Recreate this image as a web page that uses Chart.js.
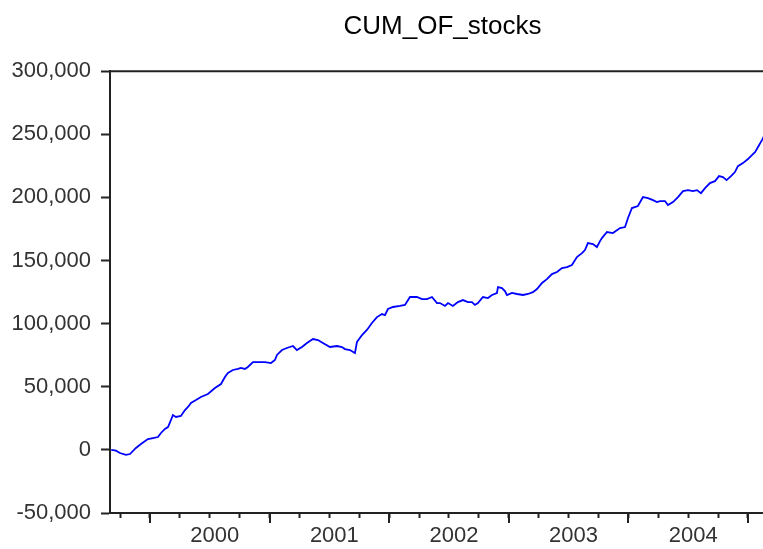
<!DOCTYPE html>
<html>
<head>
<meta charset="utf-8">
<title>CUM_OF_stocks</title>
<script src="https://cdn.jsdelivr.net/npm/chart.js@4/dist/chart.umd.min.js"></script>
<style>
  html, body { margin: 0; padding: 0; background: #fff; overflow: hidden; }
  canvas { display: block; }
</style>
</head>
<body>
<canvas id="cumChart" width="785" height="549"></canvas>
<script>
/* Cumulative order flow, stocks */

// decimal-year dates of the sampled points
const dates = [
  1999.676, 1999.716, 1999.749, 1999.799, 1999.833, 1999.883, 1999.925, 1999.983, 2000.025, 2000.067,
  2000.092, 2000.125, 2000.151, 2000.176, 2000.192, 2000.217, 2000.259, 2000.293, 2000.318, 2000.343,
  2000.385, 2000.426, 2000.485, 2000.543, 2000.594, 2000.627, 2000.652, 2000.694, 2000.736, 2000.761,
  2000.794, 2000.819, 2000.861, 2000.903, 2000.962, 2001.012, 2001.045, 2001.062, 2001.104, 2001.145,
  2001.196, 2001.229, 2001.271, 2001.313, 2001.363, 2001.405, 2001.446, 2001.505, 2001.564, 2001.605,
  2001.630, 2001.672, 2001.714, 2001.731, 2001.773, 2001.814, 2001.856, 2001.898, 2001.940, 2001.965,
  2001.990, 2002.032, 2002.090, 2002.132, 2002.174, 2002.232, 2002.274, 2002.316, 2002.358, 2002.400,
  2002.425, 2002.467, 2002.492, 2002.533, 2002.575, 2002.617, 2002.659, 2002.692, 2002.717, 2002.742,
  2002.784, 2002.826, 2002.860, 2002.901, 2002.910, 2002.943, 2002.968, 2002.985, 2003.027, 2003.069,
  2003.119, 2003.161, 2003.202, 2003.236, 2003.278, 2003.319, 2003.361, 2003.403, 2003.445, 2003.487,
  2003.528, 2003.570, 2003.612, 2003.637, 2003.662, 2003.704, 2003.737, 2003.763, 2003.779, 2003.821,
  2003.871, 2003.930, 2003.972, 2003.997, 2004.030, 2004.080, 2004.122, 2004.164, 2004.206, 2004.239,
  2004.264, 2004.306, 2004.331, 2004.373, 2004.415, 2004.457, 2004.498, 2004.540, 2004.574, 2004.607,
  2004.641, 2004.682, 2004.724, 2004.758, 2004.791, 2004.821, 2004.858, 2004.891, 2004.916, 2004.958,
  2005.000, 2005.033, 2005.059, 2005.084, 2005.117, 2005.142
];

const cumValues = [
  0, -600, -2500, -4000, -3300, 1500, 4700, 8600, 9400, 10200,
  13400, 16600, 18100, 23700, 27600, 26100, 26900, 31600, 34000, 37100,
  39500, 41900, 44300, 49000, 52200, 57700, 60900, 63300, 64100, 64900,
  64100, 65700, 69600, 69600, 69600, 68800, 71200, 75200, 79100, 80700,
  82300, 79100, 81500, 84700, 87800, 87000, 84700, 81500, 82300, 81500,
  79900, 79100, 76700, 85500, 91000, 95000, 100500, 105200, 107600, 106800,
  111600, 113200, 114000, 114800, 121100, 121100, 119500, 119500, 121100, 116300,
  116300, 114000, 116300, 114000, 117100, 118700, 117100, 117100, 114800, 116300,
  121100, 120300, 122700, 124300, 129000, 128200, 125800, 122700, 124300, 123500,
  122700, 123500, 125000, 127400, 132200, 135300, 139300, 140900, 144100, 144800,
  146400, 152800, 155900, 158300, 163800, 163100, 160700, 165400, 167800, 172600,
  171800, 175700, 176500, 183700, 191600, 193200, 200300, 199500, 197900, 196300,
  197100, 197100, 193900, 196300, 200300, 205000, 205800, 205000, 205800, 203400,
  207400, 211400, 212900, 216900, 216100, 213700, 216900, 220100, 224800, 227200,
  230400, 233500, 235900, 239900, 245400, 250100
];

// year boundaries (long ticks) and the year labels shown between them
const yearTicks = [2000, 2001, 2002, 2003, 2004, 2005];
const yearLabels = ["2000", "2001", "2002", "2003", "2004"];
const yTickValues = [-50000, 0, 50000, 100000, 150000, 200000, 250000, 300000];

const AXIS_COLOR = "#222";
const FONT = "'Liberation Sans', Arial, sans-serif";

/* quarterly tick positions, labels sit on the mid-year tick */
function quarterTicks(min, max) {
  const out = [];
  for (let q = Math.ceil(min * 4); q / 4 <= max; q++) out.push({ value: q / 4 });
  return out;
}

/* longer tick marks at year boundaries + frame line along the top */
const frameAndMajorTicks = {
  id: "frameAndMajorTicks",
  afterDraw(chart) {
    const { ctx, chartArea } = chart;
    const xs = chart.scales.x;
    ctx.save();
    ctx.strokeStyle = AXIS_COLOR;
    ctx.lineWidth = 2;
    ctx.beginPath();
    ctx.moveTo(chartArea.left, chartArea.top);
    ctx.lineTo(chart.width, chartArea.top);
    yearTicks.forEach((yr) => {
      const px = Math.round(xs.getPixelForValue(yr));
      if (px < chartArea.left || px > chartArea.right) return;
      ctx.moveTo(px, xs.top);
      ctx.lineTo(px, xs.top + 10);
    });
    ctx.stroke();
    ctx.restore();
  }
};

function renderChart() {
  const ctx = document.getElementById("cumChart");
  if (!ctx || typeof Chart === "undefined") return;

  new Chart(ctx, {
    type: "line",
    data: {
      datasets: [{
        data: dates.map((d, i) => ({ x: d, y: cumValues[i] })),
        borderColor: "#0000ff",
        borderWidth: 1.8,
        pointRadius: 0,
        tension: 0,
        fill: false
      }]
    },
    options: {
      responsive: false,
      animation: false,
      devicePixelRatio: 1,
      layout: { padding: { left: 0, right: 10, top: 0, bottom: 0 } },
      plugins: {
        legend: { display: false },
        tooltip: { enabled: false },
        title: {
          display: true,
          text: "CUM_OF_stocks",
          fullSize: false,
          color: "#000",
          font: { family: FONT, size: 26, weight: "normal" },
          padding: { top: 11, bottom: 29 }
        }
      },
      scales: {
        x: {
          type: "linear",
          min: 1999.666,
          max: 2005.226,
          afterBuildTicks: (scale) => { scale.ticks = quarterTicks(scale.min, scale.max); },
          afterFit: (scale) => { scale.height = 36; },
          border: { display: true, color: AXIS_COLOR, width: 2 },
          grid: { drawOnChartArea: false, drawTicks: true, tickLength: 5, tickColor: AXIS_COLOR, tickWidth: 2 },
          ticks: {
            autoSkip: false,
            maxRotation: 0,
            padding: 5,
            labelOffset: 5,
            color: "#333",
            font: { family: FONT, size: 22 },
            callback: (value) => {
              const yr = Math.floor(value);
              if (Math.abs(value - yr - 0.5) > 1e-6) return "";
              return yearLabels.includes(String(yr)) ? String(yr) : "";
            }
          }
        },
        y: {
          min: -50000,
          max: 300000,
          afterBuildTicks: (scale) => { scale.ticks = yTickValues.map((v) => ({ value: v })); },
          afterFit: (scale) => { scale.width = 110; },
          border: { display: true, color: AXIS_COLOR, width: 2 },
          grid: { drawOnChartArea: false, drawTicks: true, tickLength: 9, tickColor: AXIS_COLOR, tickWidth: 2 },
          ticks: {
            padding: 10,
            color: "#333",
            font: { family: FONT, size: 22 },
            callback: (value) => Number(value).toLocaleString("en-US")
          }
        }
      }
    },
    plugins: [frameAndMajorTicks]
  });
}

document.addEventListener("DOMContentLoaded", renderChart);
</script>
</body>
</html>
